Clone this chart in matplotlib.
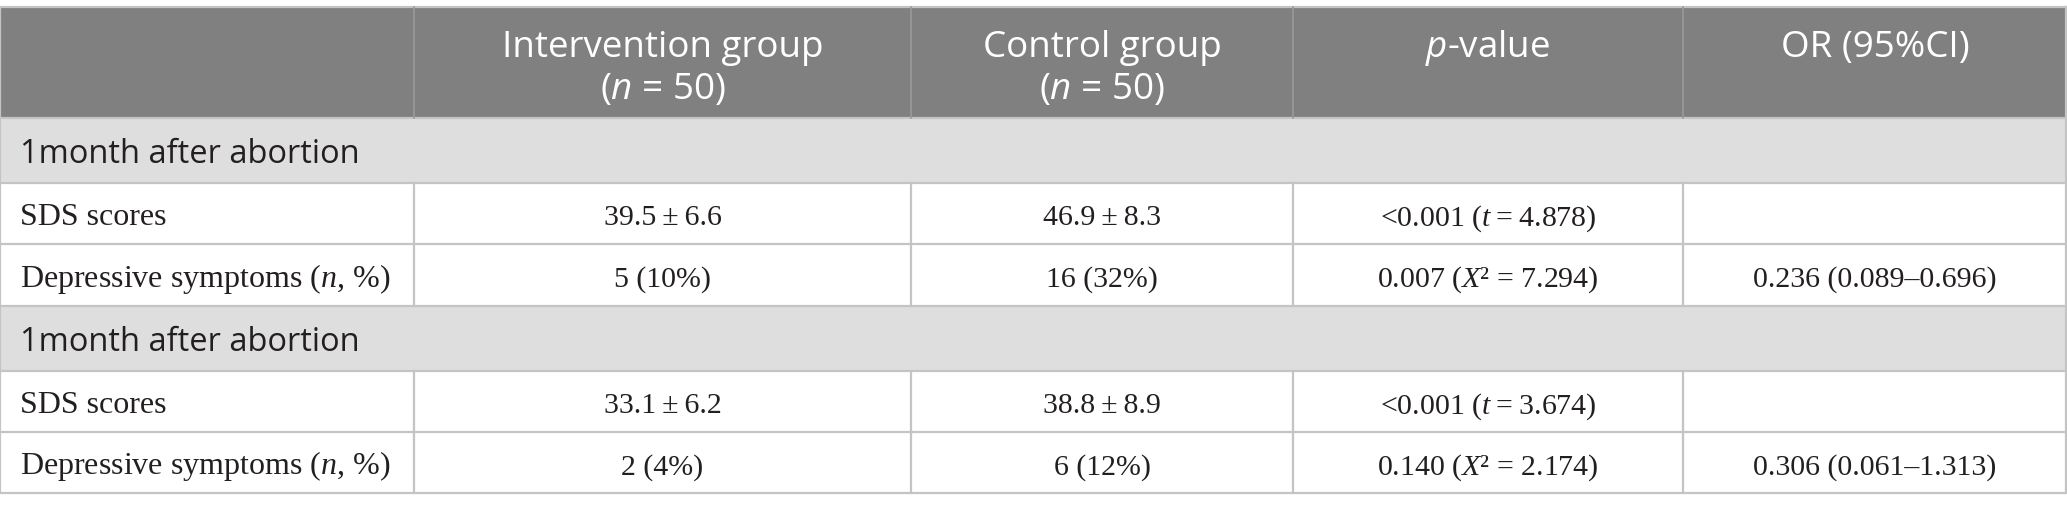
import matplotlib
matplotlib.use("Agg")
import matplotlib.pyplot as plt
from matplotlib.patches import Rectangle

# table content
col_heads = [[], ["Intervention group", "($\\mathsf{n}$ = 50)"], ["Control group", "($\\mathsf{n}$ = 50)"],
             ["$\\mathsf{p}$-value"], ["OR (95%CI)"]]
sections = ["1month after abortion", "1month after abortion"]
row_labels = ["SDS scores", "Depressive symptoms ($\\mathit{n}$, %)"]
intervention = [["39.5\u2009±\u20096.6", "5 (10%)"], ["33.1\u2009±\u20096.2", "2 (4%)"]]
control = [["46.9\u2009±\u20098.3", "16 (32%)"], ["38.8\u2009±\u20098.9", "6 (12%)"]]
p_values = [["<0.001 ($\\mathit{t}$\u2009=\u20094.878)", "0.007 ($\\mathit{X}$² = 7.294)"],
            ["<0.001 ($\\mathit{t}$\u2009=\u20093.674)", "0.140 ($\\mathit{X}$² = 2.174)"]]
odds = [["", "0.236 (0.089–0.696)"], ["", "0.306 (0.061–1.313)"]]

# layout in pixels
W, H = 2067, 510
col_x = [0, 414, 911, 1293, 1683, 2067]
row_y = [8, 119, 184, 245, 307, 372, 433, 494]
head_base = [57, 99]

plt.rcParams['mathtext.fontset'] = 'custom'
plt.rcParams['mathtext.rm'] = 'Liberation Serif'
plt.rcParams['mathtext.it'] = 'Liberation Serif:italic'
plt.rcParams['mathtext.sf'] = 'Open Sans:italic'

head_bg = "#7f807f"
sec_bg = "#dfdedf"
line_c = "#c4c4c4"
txt_c = "#231f20"

fig = plt.figure(figsize=(W / 100, H / 100), dpi=100)
ax = fig.add_axes([0, 0, 1, 1])
ax.set_xlim(0, W)
ax.set_ylim(H, 0)
ax.axis("off")

# backgrounds
ax.add_patch(Rectangle((0, row_y[0]), W, row_y[1] - row_y[0], color=head_bg, lw=0))
for r in (1, 4):
    ax.add_patch(Rectangle((0, row_y[r]), W, row_y[r + 1] - row_y[r], color=sec_bg, lw=0))

# horizontal lines
for y in row_y:
    ax.plot([0, W], [y, y], color=line_c, lw=1.6, solid_capstyle="butt")
# vertical lines (header and data rows)
for x in col_x[1:-1]:
    ax.plot([x, x], [row_y[0], row_y[1]], color="#999a99", lw=1.2)
    for r in (2, 5):
        ax.plot([x, x], [row_y[r], row_y[r + 2]], color=line_c, lw=1.6)
for x in (0, W - 1):
    ax.plot([x, x], [row_y[0], row_y[-1]], color=line_c, lw=1.6)

# header text, one line at a time
for i, lines in enumerate(col_heads):
    cx = (col_x[i] + col_x[i + 1]) / 2
    for n, line in enumerate(lines):
        ax.text(cx, head_base[n], line, ha="center", va="baseline", color="white",
                family="Open Sans", fontsize=26.5)

# section rows and data rows
for s in range(2):
    r0 = 1 + 3 * s
    ys = (row_y[r0] + row_y[r0 + 1]) / 2 + 12
    ax.text(20, ys, sections[s], ha="left", va="baseline", color=txt_c,
            family="Open Sans", fontsize=23.5)
    for k in range(2):
        r = r0 + 1 + k
        yc = (row_y[r] + row_y[r + 1]) / 2 + 11
        ax.text(20, yc, row_labels[k], ha="left", va="baseline", color=txt_c,
                family="Liberation Serif", fontsize=23)
        vals = [intervention[s][k], control[s][k], p_values[s][k], odds[s][k]]
        for j, v in enumerate(vals):
            if not v:
                continue
            cx = (col_x[j + 1] + col_x[j + 2]) / 2
            ax.text(cx, yc, v, ha="center", va="baseline", color=txt_c,
                    family="Liberation Serif", fontsize=21.5)

fig.savefig("out.png", dpi=100)
